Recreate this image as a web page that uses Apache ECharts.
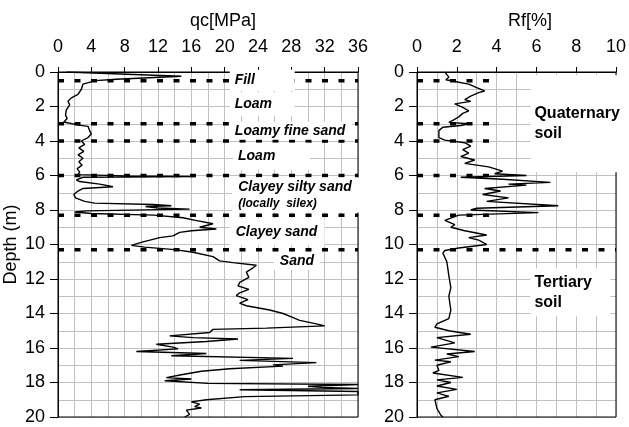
<!DOCTYPE html>
<html>
<head>
<meta charset="utf-8">
<script src="https://cdn.jsdelivr.net/npm/echarts@6/dist/echarts.min.js"></script>
<style>
  html, body { margin: 0; padding: 0; background: #fff; }
  #chart { width: 629px; height: 427px; }
</style>
</head>
<body>
<div id="chart"></div>
<script>
// cone resistance qc [MPa] vs depth [m]
const qcDepth = [0.0, 0.25, 0.42, 0.5, 0.7, 1.0, 1.3, 1.5, 1.7, 1.9, 2.2, 2.5, 2.7, 2.9, 3.0, 3.08, 3.15, 3.4, 3.6, 3.8, 4.0,
  4.2, 4.4, 4.6, 4.8, 5.0, 5.2, 5.4, 5.6, 5.8, 5.95, 6.02, 6.06, 6.1, 6.25, 6.35, 6.5, 6.65, 6.75, 6.9, 7.1, 7.3, 7.5,
  7.6, 7.68, 7.75, 7.8, 7.88, 7.95, 8.05, 8.12, 8.2, 8.3, 8.45, 8.6, 8.8, 9.0, 9.1, 9.2, 9.3, 9.5, 9.6, 9.7, 9.85,
  10.05, 10.15, 10.3, 10.45, 10.7, 10.95, 11.05, 11.2, 11.35, 11.6, 11.9, 12.2, 12.4, 12.6, 12.8, 12.96, 13.2, 13.4,
  13.55, 13.8, 14.0, 14.2, 14.4, 14.6, 14.72, 14.85, 14.92, 15.1, 15.3, 15.4, 15.48, 15.62, 15.78, 15.95, 16.05, 16.2,
  16.32, 16.45, 16.6, 16.72, 16.85, 16.98, 17.05, 17.2, 17.35, 17.55, 17.72, 17.8, 17.9, 18.05, 18.12, 18.22, 18.28,
  18.35, 18.42, 18.52, 18.72, 18.82, 19.0, 19.12, 19.25, 19.4, 19.48, 19.6, 19.85, 20.0];
const qcValues = [1.0, 14.8, 7.0, 4.5, 3.0, 2.8, 2.4, 1.6, 1.2, 1.4, 1.0, 0.9, 1.1, 0.7, 0.5, 2.5, 3.6, 3.8, 4.0, 3.6, 2.8,
  3.2, 2.5, 3.1, 2.4, 3.0, 2.5, 2.9, 2.3, 2.6, 2.4, 8.0, 16.4, 3.0, 2.2, 2.6, 5.0, 6.6, 3.0, 2.4, 1.9, 2.1, 3.2,
  4.4, 11.4, 13.6, 10.5, 12.0, 15.8, 3.4, 2.0, 4.0, 11.5, 15.0, 16.5, 18.6, 17.0, 19.0, 16.0, 14.6, 13.8, 12.2, 11.4, 10.2,
  8.8, 10.4, 14.0, 16.2, 18.6, 19.4, 21.0, 23.8, 23.4, 22.6, 22.9, 21.8, 21.6, 22.9, 21.8, 21.4, 22.8, 21.8,
  22.6, 25.4, 27.0, 28.0, 29.0, 31.0, 32.0, 25.0, 18.6, 18.2, 13.4, 16.2, 21.6, 17.8, 11.8, 13.8, 14.4, 9.4,
  17.8, 13.6, 28.2, 21.8, 31.0, 25.8, 27.0, 20.6, 17.2, 14.8, 13.0, 16.0, 12.8, 18.0, 36, 30.0, 31.6,
  36, 21.8, 36, 36, 22.4, 17.8, 16.0, 17.0, 16.4, 17.2, 15.4, 15.8, 15.2];

// friction ratio Rf [%] vs depth [m]
const rfDepth = [0.0, 0.15, 0.3, 0.45, 0.55, 0.7, 0.9, 1.1, 1.2, 1.4, 1.6, 1.7, 1.85, 2.05, 2.25, 2.4, 2.6, 2.8, 2.92,
  3.0, 3.1, 3.2, 3.4, 3.8, 3.95, 4.1, 4.3, 4.5, 4.7, 4.9, 5.1, 5.3, 5.5, 5.75, 5.9, 6.0, 6.1, 6.22, 6.4, 6.5, 6.56,
  6.75, 6.9, 7.1, 7.3, 7.5, 7.75, 7.9, 8.0, 8.15, 8.3, 8.6, 8.85, 9.0, 9.2, 9.45, 9.6, 9.75, 10.0, 10.2, 10.35, 10.5,
  11.0, 11.8, 12.5, 13.0, 13.8, 14.3, 14.6, 14.8, 15.0, 15.2, 15.4, 15.7, 15.95, 16.2, 16.35, 16.5, 16.7, 16.8, 17.0,
  17.3, 17.45, 17.7, 17.85, 18.0, 18.2, 18.4, 18.6, 18.8, 19.0, 19.5, 19.9, 20.0];
const rfValues = [1.4, 1.5, 1.6, 1.45, 1.9, 2.6, 3.0, 3.4, 3.1, 2.7, 2.4, 2.7, 1.9, 2.3, 2.6, 2.3, 2.1, 1.8, 1.6,
  2.6, 2.2, 1.3, 1.1, 1.1, 1.4, 2.4, 2.7, 2.3, 2.6, 2.2, 2.9, 2.4, 3.6, 4.3, 3.9, 5.5, 2.2, 4.3, 6.7, 4.6, 5.5,
  3.4, 4.2, 3.3, 4.6, 3.5, 7.1, 3.0, 2.7, 6.1, 2.1, 1.4, 1.9, 1.7, 2.4, 3.5, 2.6, 3.1, 3.5, 2.1, 1.4, 1.3,
  1.5, 1.6, 1.7, 1.6, 1.7, 1.6, 1.0, 0.9, 1.6, 2.7, 1.0, 1.9, 0.7, 2.9, 1.5, 2.1, 0.9, 1.7, 1.0,
  1.1, 0.8, 2.3, 1.0, 1.7, 1.0, 2.0, 1.0, 1.6, 0.9, 1.0, 1.2, 1.3];

// layer boundaries [m]
const layerBounds = [0.5, 3.0, 4.0, 6.0, 8.3, 10.3];
const quaternaryBase = 10.3;

const qcTicks = { min: 0, max: 36, interval: 4 };
const rfTicks = { min: 0, max: 10, interval: 2 };
const depthTicks = { min: 0, max: 20, interval: 2 };

const FONT = 'Liberation Sans, Arial, sans-serif';
const GRID_GRAY = '#c0c0c0';

const zip = (xs, ys) => xs.map((x, i) => [x, ys[i]]);

function xAxisFor(gridIndex, ticks) {
  return {
    gridIndex, type: 'value', position: 'top',
    min: ticks.min, max: ticks.max, interval: ticks.interval,
    axisLine: { lineStyle: { color: '#000' } },
    axisTick: { length: 5, lineStyle: { color: '#000' } },
    axisLabel: { margin: 16, fontSize: 18, color: '#000', fontFamily: FONT },
    splitLine: { show: true, lineStyle: { color: GRID_GRAY } },
    minorTick: { show: false, splitNumber: 2 },
    minorSplitLine: { show: true, lineStyle: { color: GRID_GRAY } }
  };
}

function yAxisFor(gridIndex, name) {
  return {
    gridIndex, type: 'value', inverse: true,
    min: depthTicks.min, max: depthTicks.max, interval: depthTicks.interval,
    name, nameLocation: 'middle', nameGap: 38,
    nameTextStyle: { fontSize: 18, color: '#000', fontFamily: FONT },
    axisLine: { lineStyle: { color: '#000' } },
    axisTick: { length: 8, lineStyle: { color: '#000' } },
    axisLabel: { margin: 13, fontSize: 18, color: '#000', fontFamily: FONT },
    splitLine: { show: true, lineStyle: { color: GRID_GRAY } },
    minorTick: { show: false, splitNumber: 2 },
    minorSplitLine: { show: true, lineStyle: { color: GRID_GRAY } }
  };
}

function boundSeries(axisIdx, depth, xEnd) {
  return {
    type: 'line', xAxisIndex: axisIdx, yAxisIndex: axisIdx, z: 4,
    data: [[0, depth], [xEnd, depth]],
    showSymbol: false, silent: true,
    lineStyle: { color: '#000', width: 3.5, type: [6, 10.5] }
  };
}

// text boxes with white background, anchored at their left edge
const italic = { fontStyle: 'italic', fontWeight: 'bold', fontSize: 14, fontFamily: FONT, color: '#000', lineHeight: 16 };
function box(x, y, text, w, pad, extra) {
  return {
    value: [x, y],
    label: Object.assign({
      show: true, position: 'right', distance: 0, formatter: text,
      backgroundColor: '#fff', width: w, padding: pad, align: 'left'
    }, italic, extra || {})
  };
}

const richBold = (size, lh) => ({ fontStyle: 'italic', fontWeight: 'bold', fontSize: size, fontFamily: FONT, color: '#000', lineHeight: lh });

const leftLabels = [
  box(20.6, 0.48, 'Fill', 55, [2, 5, 3, 5]),
  box(20.6, 1.87, 'Loam', 55, [4, 5, 4, 5]),
  box(20.5, 3.41, 'Loamy fine sand', 113, [1, 4, 1, 6]),
  box(21.0, 4.89, 'Loam', 67, [5, 5, 6, 5]),
  box(20.9, 7.13, '{a|Clayey silty sand}\n{b|(locally  silex)}', 118, [1, 4, 1, 6], {
    rich: { a: richBold(14, 17), b: richBold(12, 16) }
  }),
  box(20.6, 9.27, 'Clayey sand', 85, [5, 4, 6, 6]),
  box(25.9, 10.96, 'Sand', 36, [1, 4, 1, 6])
];

const plain = { fontStyle: 'normal', fontSize: 16, lineHeight: 20 };
const rightLabels = [
  box(5.7, 3.0, 'Quaternary\nsoil', 85, [3, 0, 54, 4], plain),
  box(5.7, 12.78, 'Tertiary\nsoil', 70, [1, 6, 7, 4], plain)
];

const labelSeries = (idx, data) => ({
  type: 'scatter', xAxisIndex: idx, yAxisIndex: idx, z: 5,
  symbolSize: 0, silent: true, itemStyle: { opacity: 1 }, data
});

const option = {
  animation: false,
  backgroundColor: '#fff',
  grid: [
    { left: 58, top: 72, width: 300, height: 345, show: true, borderColor: '#000', borderWidth: 1, z: 3 },
    { left: 417, top: 72, width: 202, height: 345, show: true, borderColor: '#000', borderWidth: 1, z: 3 }
  ],
  xAxis: [xAxisFor(0, qcTicks), xAxisFor(1, rfTicks)],
  yAxis: [yAxisFor(0, 'Depth (m)'), yAxisFor(1, '')],
  graphic: [
    { type: 'text', x: 223, y: 21, style: { text: 'qc[MPa]', align: 'center', verticalAlign: 'middle', font: '18px ' + FONT, fill: '#000' } },
    { type: 'text', x: 530, y: 21, style: { text: 'Rf[%]', align: 'center', verticalAlign: 'middle', font: '18px ' + FONT, fill: '#000' } }
  ],
  series: [
    {
      type: 'line', xAxisIndex: 0, yAxisIndex: 0, z: 4,
      data: zip(qcValues, qcDepth), showSymbol: false,
      lineStyle: { color: '#000', width: 1.4 }
    },
    {
      type: 'line', xAxisIndex: 1, yAxisIndex: 1, z: 4,
      data: zip(rfValues, rfDepth), showSymbol: false,
      lineStyle: { color: '#000', width: 1.4 }
    },
    ...layerBounds.map(d => boundSeries(0, d, qcTicks.max)),
    ...layerBounds.map(d => boundSeries(1, d, d === quaternaryBase ? rfTicks.max : 3.8)),
    labelSeries(0, leftLabels),
    labelSeries(1, rightLabels)
  ]
};

const chart = echarts.init(document.getElementById('chart'));
chart.setOption(option);
</script>
</body>
</html>
